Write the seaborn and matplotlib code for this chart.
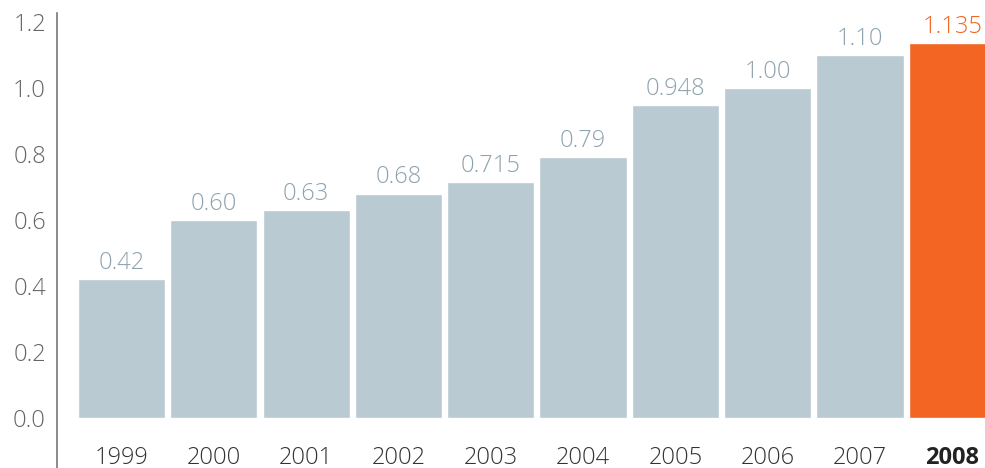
import matplotlib
matplotlib.use("Agg")
import matplotlib.pyplot as plt
import seaborn as sns
import pandas as pd

years = ['1999', '2000', '2001', '2002', '2003', '2004', '2005', '2006', '2007', '2008']
values = [0.42, 0.60, 0.63, 0.68, 0.715, 0.79, 0.948, 1.00, 1.10, 1.135]
value_labels = ['0.42', '0.60', '0.63', '0.68', '0.715', '0.79', '0.948', '1.00', '1.10', '1.135']
yticks = [0.0, 0.2, 0.4, 0.6, 0.8, 1.0, 1.2]

grey = '#b9cad2'
orange = '#f26522'
label_grey = '#8ea2ae'

sns.set_theme(style='white')
plt.rcParams['font.family'] = ['Open Sans', 'DejaVu Sans']

df = pd.DataFrame({'year': years, 'value': values})
colors = [grey] * (len(years) - 1) + [orange]

fig = plt.figure(figsize=(9.85, 4.68), dpi=100)
ax = fig.add_axes([57 / 985, 0, 928 / 985, 1])

sns.barplot(data=df, x='year', y='value', hue='year', palette=colors,
            legend=False, width=0.945, saturation=1, ax=ax)

ax.set_xlim(-0.699, 9.355)
ax.set_ylim(-0.1515, 1.2667)

# value labels above the bars
for i, c in enumerate(ax.containers):
    col = orange if i == len(ax.containers) - 1 else label_grey
    ax.bar_label(c, labels=[value_labels[i]], padding=3, fontsize=17,
                 color=col, fontweight='light')

ax.set_yticks(yticks)
ax.set_yticklabels([f'{t:.1f}' for t in yticks], fontsize=17, color='#666666',
                   fontweight='light')
ax.set_xlabel('')
ax.set_ylabel('')

ax.spines['bottom'].set_position(('data', 0))
ax.spines['bottom'].set_visible(False)
ax.spines['top'].set_visible(False)
ax.spines['right'].set_visible(False)
ax.spines['left'].set_color('#777777')
ax.spines['left'].set_linewidth(1.2)
ax.spines['left'].set_bounds(-0.1515, 1.227)

ax.tick_params(axis='x', length=0, pad=20)
ax.tick_params(axis='y', length=0, pad=8)
for t in ax.get_xticklabels():
    t.set_fontsize(17)
    t.set_color('#333333')
    t.set_fontweight('light')
xl = ax.get_xticklabels()
xl[-1].set_fontweight('bold')
xl[-1].set_color('#222222')

fig.savefig('out.png', dpi=100)
